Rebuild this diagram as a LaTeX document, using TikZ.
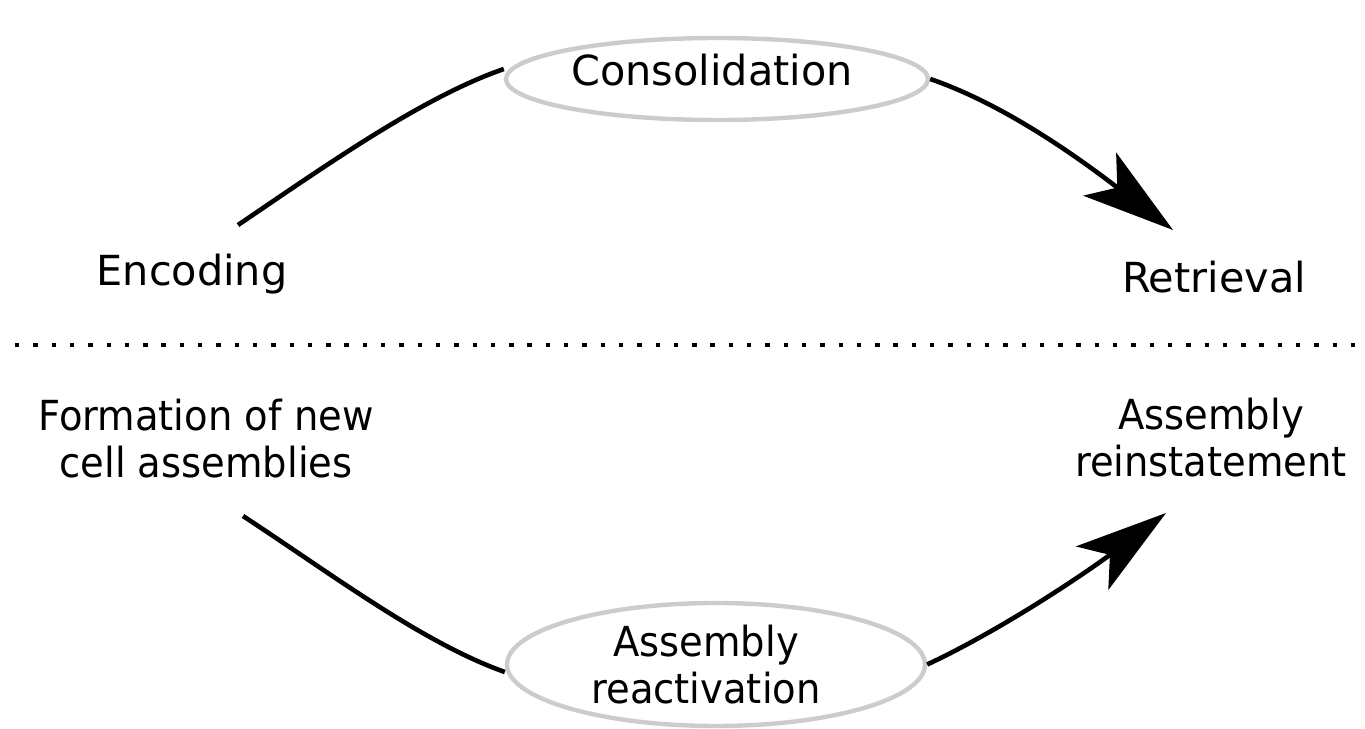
\documentclass[tikz,border=0pt]{standalone}
\usepackage{fontspec}
\setmainfont{DejaVu Sans}
\newfontfamily\narrowfont[FakeStretch=0.93]{DejaVu Sans}
\usetikzlibrary{arrows.meta,shapes.geometric}
\begin{document}
\begin{tikzpicture}[x=0.5pt,y=-0.5pt,
  lbl/.style={font=\fontsize{20.7pt}{23.5pt}\selectfont, inner sep=0pt, align=center},
  nlbl/.style={lbl, font=\narrowfont\fontsize{20.7pt}{23.5pt}\selectfont},
  stage/.style={ellipse, draw=black!20, line width=2.2pt},
  link/.style={line width=2.3pt, black},
  arr/.style={link, -{Stealth[length=46pt,width=27pt,inset=11pt]}},
  sep/.style={line width=2.2pt, dash pattern=on 2.2pt off 6.95pt}]
\useasboundingbox (0,0) rectangle (1365,728);
% stages
\node[lbl, stage, minimum width=211pt, minimum height=41pt, text height=15.75pt, text depth=9.75pt] (cons) at (717,79) {Consolidation\hspace*{5pt}};
\node[nlbl, stage, minimum width=209pt, minimum height=61.5pt] (react) at (716,664.5) {Assembly\hspace*{10pt}\\reactivation\hspace*{10pt}};
% labels
\node[lbl, anchor=base] (enc) at (192,285) {Encoding};
\node[lbl, anchor=base] (ret) at (1214,292) {Retrieval};
\node[nlbl] (form) at (206,439) {Formation of new\\cell assemblies};
\node[nlbl] (rein) at (1211,438) {Assembly\\reinstatement};
% free connector ends
\coordinate (encout) at (238,225);
\coordinate (retin) at (1173,230);
\coordinate (formout) at (243,516);
\coordinate (reinin) at (1166,513);
% separator
\coordinate (sepl) at (15,345);
\coordinate (sepr) at (1365,345);
\draw[sep] (sepl) -- (sepr);
% connectors
\draw[link] (encout) .. controls (328,164) and (423,97) .. ([yshift=5pt]cons.west);
\draw[arr] (cons.east) .. controls (1012,107) and (1093,169) .. (retin);
\draw[link] (formout) .. controls (333,575) and (423,643) .. ([yshift=-3.75pt]react.west);
\draw[arr] (react.east) .. controls (1007,627) and (1091,569) .. (reinin);
\end{tikzpicture}
\end{document}
